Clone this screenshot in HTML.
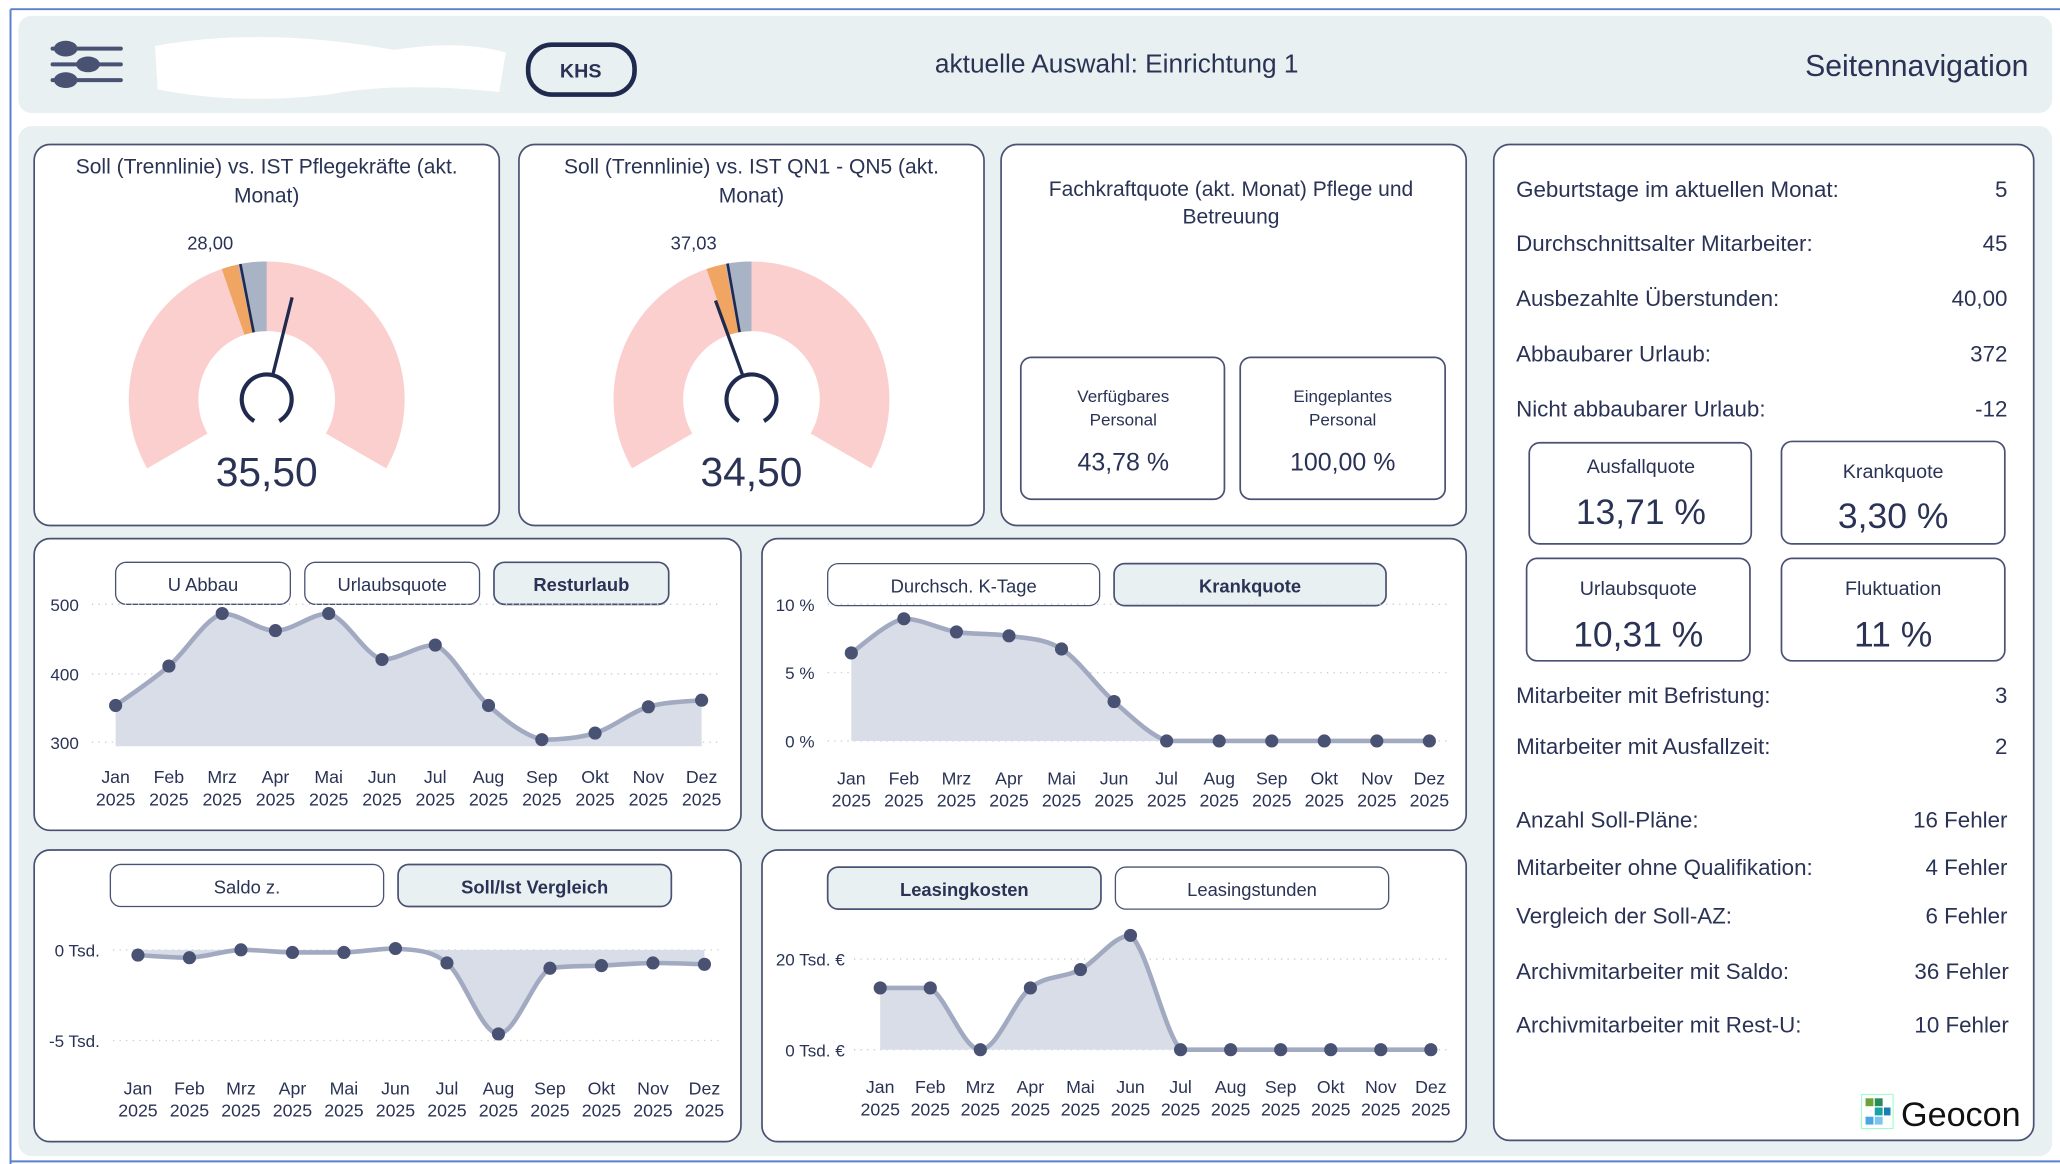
<!DOCTYPE html>
<html><head><meta charset="utf-8">
<style>
html,body{margin:0;padding:0;background:#fff;}
svg{display:block;}
text{font-family:"Liberation Sans",sans-serif;fill:#2a3355;}
</style></head>
<body>
<svg id="s" width="2060" height="1164" viewBox="0 0 1568 886" xmlns="http://www.w3.org/2000/svg">
<rect x="0" y="0" width="1568" height="886" fill="#fff"/>
<line x1="8" y1="7" x2="1568" y2="7" stroke="#5b7fcf" stroke-width="1.5"/>
<line x1="8" y1="7" x2="8" y2="886" stroke="#5b7fcf" stroke-width="1.5"/>
<line x1="8" y1="884" x2="1568" y2="884" stroke="#5b7fcf" stroke-width="1.5"/>
<rect x="14" y="12" width="1548" height="74" rx="10" fill="#e9f0f2"/>
<rect x="14" y="96" width="1548" height="784" rx="10" fill="#e9f0f2"/>
<!-- header -->
<g stroke="#4a5274" stroke-width="3" stroke-linecap="round">
<line x1="40" y1="37" x2="92" y2="37"/><line x1="40" y1="49" x2="92" y2="49"/><line x1="40" y1="61" x2="92" y2="61"/></g>
<g fill="#4a5274"><ellipse cx="50" cy="37" rx="9" ry="6"/><ellipse cx="67" cy="49" rx="9" ry="6"/><ellipse cx="50" cy="61" rx="9" ry="6"/></g>
<path d="M118 35 Q200 20 300 38 Q350 30 385 40 L380 70 Q300 62 250 72 Q180 80 120 68 Z" fill="#fff"/>
<rect x="402" y="34" width="81" height="38" rx="18" fill="none" stroke="#1f2a4e" stroke-width="3.5"/>
<text x="442" y="59" font-size="15" font-weight="bold" text-anchor="middle">KHS</text>
<text x="850" y="55" font-size="20" text-anchor="middle">aktuelle Auswahl: Einrichtung 1</text>
<text x="1544" y="58" font-size="23" text-anchor="end">Seitennavigation</text>
<g id="cards" fill="#fff" stroke="#4a5274" stroke-width="1.3">
<rect x="26" y="110" width="354" height="290" rx="12"/>
<rect x="395" y="110" width="354" height="290" rx="12"/>
<rect x="762" y="110" width="354" height="290" rx="12"/>
<rect x="1137" y="110" width="411" height="758" rx="12"/>
<rect x="26" y="410" width="538" height="222" rx="12"/>
<rect x="580" y="410" width="536" height="222" rx="12"/>
<rect x="26" y="647" width="538" height="222" rx="12"/>
<rect x="580" y="647" width="536" height="222" rx="12"/>
</g>
<!-- gauge titles -->
<text x="203" y="132" font-size="16" text-anchor="middle">Soll (Trennlinie) vs. IST Pflegekräfte (akt.</text>
<text x="203" y="154" font-size="16" text-anchor="middle">Monat)</text>
<text x="572" y="132" font-size="16" text-anchor="middle">Soll (Trennlinie) vs. IST QN1 - QN5 (akt.</text>
<text x="572" y="154" font-size="16" text-anchor="middle">Monat)</text>
<text x="160" y="190" font-size="14" text-anchor="middle">28,00</text>
<text x="528" y="190" font-size="14" text-anchor="middle">37,03</text>
<text x="203" y="370" font-size="31" text-anchor="middle">35,50</text>
<text x="572" y="370" font-size="31" text-anchor="middle">34,50</text>
<g id="gauges"></g>
<!-- Fachkraft -->
<text x="937" y="149" font-size="16" text-anchor="middle">Fachkraftquote (akt. Monat) Pflege und</text>
<text x="937" y="170" font-size="16" text-anchor="middle">Betreuung</text>
<g fill="#fff" stroke="#4a5274" stroke-width="1.3">
<rect x="777" y="272" width="155" height="108" rx="8"/>
<rect x="944" y="272" width="156" height="108" rx="8"/>
<rect x="1164" y="337" width="169" height="77" rx="8"/>
<rect x="1356" y="336" width="170" height="78" rx="8"/>
<rect x="1162" y="425" width="170" height="78" rx="8"/>
<rect x="1356" y="425" width="170" height="78" rx="8"/>
</g>
<g font-size="13" text-anchor="middle">
<text x="855" y="306">Verfügbares</text><text x="855" y="324">Personal</text>
<text x="1022" y="306">Eingeplantes</text><text x="1022" y="324">Personal</text>
</g>
<text x="855" y="358" font-size="19" text-anchor="middle">43,78 %</text>
<text x="1022" y="358" font-size="19" text-anchor="middle">100,00 %</text>
<g font-size="15" text-anchor="middle">
<text x="1249" y="360">Ausfallquote</text><text x="1441" y="364">Krankquote</text>
<text x="1247" y="453">Urlaubsquote</text><text x="1441" y="453">Fluktuation</text>
</g>
<g font-size="27" text-anchor="middle">
<text x="1249" y="399">13,71 %</text><text x="1441" y="402">3,30 %</text>
<text x="1247" y="492">10,31 %</text><text x="1441" y="492">11 %</text>
</g>
<g font-size="17">
<text x="1154" y="150">Geburtstage im aktuellen Monat:</text>
<text x="1154" y="191">Durchschnittsalter Mitarbeiter:</text>
<text x="1154" y="233">Ausbezahlte Überstunden:</text>
<text x="1154" y="275">Abbaubarer Urlaub:</text>
<text x="1154" y="317">Nicht abbaubarer Urlaub:</text>
<text x="1154" y="535">Mitarbeiter mit Befristung:</text>
<text x="1154" y="574">Mitarbeiter mit Ausfallzeit:</text>
<text x="1154" y="630">Anzahl Soll-Pläne:</text>
<text x="1154" y="666">Mitarbeiter ohne Qualifikation:</text>
<text x="1154" y="703">Vergleich der Soll-AZ:</text>
<text x="1154" y="745">Archivmitarbeiter mit Saldo:</text>
<text x="1154" y="786">Archivmitarbeiter mit Rest-U:</text>
</g>
<g font-size="17" text-anchor="end">
<text x="1528" y="150">5</text><text x="1528" y="191">45</text><text x="1528" y="233">40,00</text>
<text x="1528" y="275">372</text><text x="1528" y="317">-12</text>
<text x="1528" y="535">3</text><text x="1528" y="574">2</text>
<text x="1528" y="630">16 Fehler</text><text x="1528" y="666">4 Fehler</text>
<text x="1528" y="703">6 Fehler</text><text x="1529" y="745">36 Fehler</text><text x="1529" y="786">10 Fehler</text>
</g>
<rect x="1417" y="833" width="24" height="26" fill="#fff" stroke="#9fc" stroke-width="0.8"/>
<rect x="1420" y="836" width="6" height="6" fill="#6aa336"/><rect x="1427" y="836" width="6" height="6" fill="#2a8a5a"/>
<rect x="1427" y="843" width="6" height="6" fill="#1aa3a3"/><rect x="1434" y="843" width="5" height="6" fill="#1a7fb0"/>
<rect x="1420" y="850" width="6" height="6" fill="#4aa6e0"/><rect x="1427" y="850" width="6" height="6" fill="#7cc4ee"/>
<text x="1447" y="857" font-size="26" style="fill:#111">Geocon</text>
<g id="charts"></g>
</svg>
<script>
var NS="http://www.w3.org/2000/svg";
function el(p,t,a,txt){var e=document.createElementNS(NS,t);for(var k in a)e.setAttribute(k,a[k]);if(txt!=null)e.textContent=txt;p.appendChild(e);return e;}
var G=document.getElementById('gauges');
function pt(cx,cy,r,deg){var a=deg*Math.PI/180;return [cx+r*Math.sin(a),cy-r*Math.cos(a)];}
function seg(cx,cy,ro,ri,a0,a1,col){var p1=pt(cx,cy,ro,a0),p2=pt(cx,cy,ro,a1),p3=pt(cx,cy,ri,a1),p4=pt(cx,cy,ri,a0);var lg=(a1-a0)>180?1:0;
el(G,'path',{d:'M'+p1+' A'+ro+' '+ro+' 0 '+lg+' 1 '+p2+' L'+p3+' A'+ri+' '+ri+' 0 '+lg+' 0 '+p4+' Z',fill:col});}
function gauge(cx,cy,o0,o1,tg,nd){
seg(cx,cy,105,52,-120,120,'#fccfcf');seg(cx,cy,105,52,o0,o1,'#f0a562');seg(cx,cy,105,52,o1,0,'#a9b3c6');
var a=pt(cx,cy,52,tg),b=pt(cx,cy,105,tg);el(G,'line',{x1:a[0],y1:a[1],x2:b[0],y2:b[1],stroke:'#1f2a4e','stroke-width':2});
var c=pt(cx,cy,18,nd),d=pt(cx,cy,80,nd);el(G,'line',{x1:c[0],y1:c[1],x2:d[0],y2:d[1],stroke:'#1f2a4e','stroke-width':2.5});
var l=pt(cx,cy,19,-150),r=pt(cx,cy,19,150);el(G,'path',{d:'M'+l+' A19 19 0 1 1 '+r,fill:'none',stroke:'#1f2a4e','stroke-width':3.2});}
gauge(203,304,-19,-12,-11,14);gauge(572,304,-19,-11,-10,-20);
var C=document.getElementById('charts');
function cl(v,a,b){var lo=Math.min(a,b),hi=Math.max(a,b);return Math.max(lo,Math.min(hi,v));}
function smooth(P){var d='M'+P[0][0]+' '+P[0][1];for(var i=0;i<P.length-1;i++){var p0=P[i-1]||P[i],p1=P[i],p2=P[i+1],p3=P[i+2]||p2;
var c1=cl(p1[1]+(p2[1]-p0[1])/6,p1[1],p2[1]),c2=cl(p2[1]-(p3[1]-p1[1])/6,p1[1],p2[1]);
d+=' C'+(p1[0]+(p2[0]-p0[0])/6)+' '+c1+' '+(p2[0]-(p3[0]-p1[0])/6)+' '+c2+' '+p2[0]+' '+p2[1];}return d;}
var M=['Jan','Feb','Mrz','Apr','Mai','Jun','Jul','Aug','Sep','Okt','Nov','Dez'];
function chart(o){
o.btns.forEach(function(b){el(C,'rect',{x:b[0],y:b[1],width:b[2]-b[0],height:b[3]-b[1],rx:8,fill:b[5]?'#e9f0f2':'#fff',stroke:'#4a5274','stroke-width':b[5]?1.3:1});
el(C,'text',{x:(b[0]+b[2])/2,y:b[1]+22,'font-size':14,'text-anchor':'middle','font-weight':b[5]?'bold':'normal'},b[4]);});
o.grid.forEach(function(g){el(C,'line',{x1:o.gx0,y1:g[0],x2:o.gx1,y2:g[0],stroke:'#c8ccd6','stroke-width':1,'stroke-dasharray':'1 4'});
el(C,'text',{x:o.lx,y:g[0]+5,'font-size':13,'text-anchor':'end'},g[1]);});
var P=o.ys.map(function(y,i){return [o.x0+i*o.dx,y];});var s=smooth(P);
el(C,'path',{d:s+' L'+P[11][0]+' '+o.base+' L'+P[0][0]+' '+o.base+' Z',fill:'#d9dde7'});
el(C,'path',{d:s,fill:'none',stroke:'#a1aac0','stroke-width':3.5});
P.forEach(function(p,i){el(C,'circle',{cx:p[0],cy:p[1],r:5,fill:'#4a5274'});
el(C,'text',{x:p[0],y:o.my,'font-size':13.5,'text-anchor':'middle'},M[i]);el(C,'text',{x:p[0],y:o.my+17,'font-size':13.5,'text-anchor':'middle'},'2025');});}
chart({btns:[[88,428,221,460,'U Abbau'],[232,428,365,460,'Urlaubsquote'],[376,428,509,460,'Resturlaub',1]],grid:[[460,'500'],[513,'400'],[565,'300']],gx0:70,gx1:550,lx:60,
x0:88,dx:40.55,ys:[537,507,467,480,467,502,491,537,563,558,538,533],base:568,my:596});
chart({btns:[[630,429,837,461,'Durchsch. K-Tage'],[848,429,1055,461,'Krankquote',1]],grid:[[460,'10 %'],[512,'5 %'],[564,'0 %']],gx0:630,gx1:1104,lx:620,
x0:648,dx:40,ys:[497,471,481,484,494,534,564,564,564,564,564,564],base:564,my:597});
chart({btns:[[84,658,292,690,'Saldo z.'],[303,658,511,690,'Soll/Ist Vergleich',1]],grid:[[723,'0 Tsd.'],[792,'-5 Tsd.']],gx0:86,gx1:550,lx:76,
x0:105,dx:39.2,ys:[727,729,723,725,725,722,733,787,737,735,733,734],base:723,my:833});
chart({btns:[[630,660,838,692,'Leasingkosten',1],[849,660,1057,692,'Leasingstunden']],grid:[[730,'20 Tsd. €'],[799,'0 Tsd. €']],gx0:650,gx1:1104,lx:643,
x0:670,dx:38.1,ys:[752,752,799,752,738,712,799,799,799,799,799,799],base:799,my:832});
</script>
</body></html>
